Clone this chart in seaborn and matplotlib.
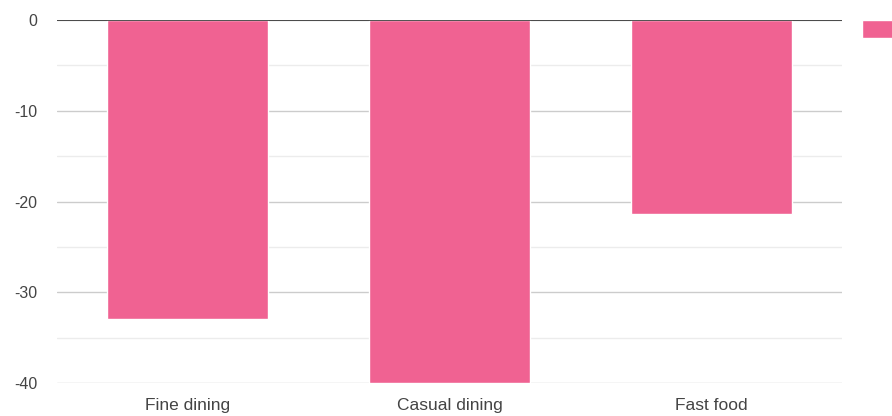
import matplotlib
matplotlib.use("Agg")
import matplotlib.pyplot as plt
import pandas as pd
import seaborn as sns

categories = ["Fine dining", "Casual dining", "Fast food"]
values = [-33.0, -40.0, -21.4]
series_name = " "

bar_color = "#F06292"

sns.set_style("white")
plt.rcParams["font.family"] = ["Liberation Sans", "DejaVu Sans"]
plt.rcParams["axes.unicode_minus"] = False

df = pd.DataFrame({"category": categories, "value": values})

fig = plt.figure(figsize=(8.92, 4.16), dpi=100)
ax = fig.add_axes([57 / 892, 33 / 416, (842 - 57) / 892, (383 - 20) / 416])

sns.barplot(data=df, x="category", y="value", color=bar_color, saturation=1,
            width=0.615, ax=ax, label=series_name, zorder=3)

ax.set_ylim(-40, 0)
ax.set_yticks([0, -10, -20, -30, -40])
ax.set_yticks([-5, -15, -25, -35], minor=True)
ax.grid(axis="y", which="major", color="#cccccc", lw=1, zorder=0)
ax.grid(axis="y", which="minor", color="#ececec", lw=1, zorder=0)
ax.axhline(0, color="#333333", lw=1.2, zorder=4)
ax.set_axisbelow(True)

sns.despine(ax=ax, left=True, bottom=True)
ax.tick_params(axis="both", which="both", length=0, labelcolor="#444444")
ax.tick_params(axis="y", labelsize=11.5, pad=14)
ax.tick_params(axis="x", labelsize=12.5, pad=11)
ax.set_xlabel("")
ax.set_ylabel("")

ax.legend(loc="upper left", frameon=False,
          handlelength=3.0, handleheight=1.6, borderaxespad=0,
          borderpad=0, handletextpad=0)
ax.legend_.set_bbox_to_anchor((862 / 892, 1 - 20 / 416), transform=fig.transFigure)

fig.savefig("out.png", dpi=100)
